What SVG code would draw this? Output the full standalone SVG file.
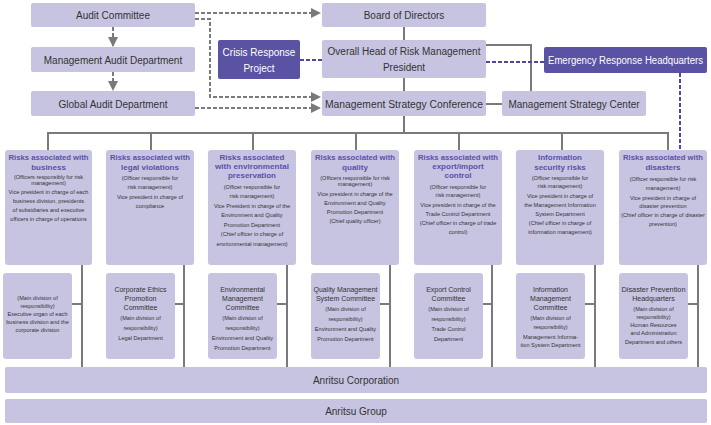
<svg xmlns="http://www.w3.org/2000/svg" width="711" height="425" viewBox="0 0 711 425">
<defs>
<marker id="ag" viewBox="0 0 10 10" refX="9" refY="5" markerWidth="5" markerHeight="5" orient="auto"><path d="M0,0L10,5L0,10z" fill="#7a7a7a"/></marker>
<style>
.b{fill:#c7c4e2;}
.d{fill:#5a52a3;}
text{font-family:"Liberation Sans",Arial,sans-serif;text-anchor:middle;fill:#333;}
.m{font-size:10px;}
.w{fill:#fff;font-size:10px;}
.t{fill:#5b50aa;font-size:8px;font-weight:bold;}
.s{font-size:5.6px;}
.l{font-size:7px;}
.g{stroke:#7a7a7a;stroke-width:2;fill:none;}
.gd{stroke:#7a7a7a;stroke-width:2;fill:none;stroke-dasharray:4,2;}
.bd{stroke:#4e45a0;stroke-width:2;fill:none;stroke-dasharray:4,2;}
</style>
</defs>
<g id="connectors">
<path class="gd" d="M195,13H320" marker-end="url(#ag)"/>
<path class="gd" d="M195,19H210V97H320" marker-end="url(#ag)"/>
<path class="gd" d="M195,108H320" marker-end="url(#ag)"/>
<path class="gd" d="M113,27V46" marker-end="url(#ag)"/>
<path class="gd" d="M113,72V90" marker-end="url(#ag)"/>
<path class="g" d="M404,27V40M404,78V91M486,45H531V91M486,104H502M404,116V133M48,150V133H668V150M151,133V150M253,133V150M356,133V150M459,133V150M562,133V150"/>
<path class="g" d="M82,265V367M184,265V367M287,265V367M390,265V367M492,265V367M595,265V367M698,265V367M72,304H82M175,304H184M277,304H287M380,304H390M483,304H492M585,304H595M688,304H698"/>
<path class="bd" d="M300,60H322M486,62H544M680,73V150"/>
</g>
<g id="audit"><rect class="b" x="31" y="3" width="164" height="24" rx="2"/><text class="m" x="113" y="19">Audit Committee</text></g>
<g id="board"><rect class="b" x="322" y="3" width="164" height="24" rx="2"/><text class="m" x="404" y="19">Board of Directors</text></g>
<g id="crisis"><rect class="d" x="218" y="40" width="82" height="39" rx="2"/><text class="w" x="259" y="56">Crisis Response</text><text class="w" x="259" y="72">Project</text></g>
<g id="head"><rect class="b" x="322" y="40" width="164" height="38" rx="2"/><text class="m" x="404" y="55">Overall Head of Risk Management</text><text class="m" x="404" y="71">President</text></g>
<g id="emergency"><rect class="d" x="544" y="47" width="163" height="26" rx="2"/><text class="w" x="625.5" y="64" textLength="155" lengthAdjust="spacingAndGlyphs">Emergency Response Headquarters</text></g>
<g id="mad"><rect class="b" x="31" y="47" width="164" height="25" rx="2"/><text class="m" x="113" y="64">Management Audit Department</text></g>
<g id="gad"><rect class="b" x="31" y="91" width="164" height="25" rx="2"/><text class="m" x="113" y="108">Global Audit Department</text></g>
<g id="conf"><rect class="b" x="322" y="91" width="164" height="25" rx="2"/><text class="m" x="404" y="108" textLength="158" lengthAdjust="spacingAndGlyphs">Management Strategy Conference</text></g>
<g id="center"><rect class="b" x="502" y="91" width="144" height="25" rx="2"/><text class="m" x="574" y="108">Management Strategy Center</text></g>

<g id="r1"><rect class="b" x="5" y="150" width="87" height="115" rx="3"/>
<text class="t" x="48.5" y="160" textLength="80" lengthAdjust="spacingAndGlyphs">Risks associated with</text><text class="t" x="48.5" y="170">business</text>
<text class="s" x="48.5" y="179">(Officers responsibly for risk</text><text class="s" x="48.5" y="185">management)</text>
<text class="s" x="48.5" y="194">Vice president in charge of each</text><text class="s" x="48.5" y="203">business division, presidents</text><text class="s" x="48.5" y="212">of subsidiaries and executive</text><text class="s" x="48.5" y="221">officers in charge of operations</text></g>
<g id="r2"><rect class="b" x="106" y="150" width="88" height="115" rx="3"/>
<text class="t" x="150" y="160" textLength="80" lengthAdjust="spacingAndGlyphs">Risks associated with</text><text class="t" x="150" y="170">legal violations</text>
<text class="s" x="150" y="180">(Officer responsible for</text><text class="s" x="150" y="189">risk management)</text>
<text class="s" x="150" y="199">Vice president in charge of</text><text class="s" x="150" y="208">compliance</text></g>
<g id="r3"><rect class="b" x="208" y="150" width="88" height="115" rx="3"/>
<text class="t" x="252" y="160">Risks associated</text><text class="t" x="252" y="169" textLength="74" lengthAdjust="spacingAndGlyphs">with environmental</text><text class="t" x="252" y="178">preservation</text>
<text class="s" x="252" y="189">(Officer responsible for</text><text class="s" x="252" y="198">risk management)</text>
<text class="s" x="252" y="208">Vice President in charge of the</text><text class="s" x="252" y="217">Environment and Quality</text><text class="s" x="252" y="227">Promotion Department</text><text class="s" x="252" y="236">(Chief officer in charge of</text><text class="s" x="252" y="246">environmental management)</text></g>
<g id="r4"><rect class="b" x="311" y="150" width="88" height="115" rx="3"/>
<text class="t" x="355" y="160" textLength="80" lengthAdjust="spacingAndGlyphs">Risks associated with</text><text class="t" x="355" y="170">quality</text>
<text class="s" x="355" y="180">(Officers responsible for risk</text><text class="s" x="355" y="186">management)</text>
<text class="s" x="355" y="196">Vice president in charge of the</text><text class="s" x="355" y="205">Environment and Quality</text><text class="s" x="355" y="214">Promotion Department</text><text class="s" x="355" y="223">(Chief quality officer)</text></g>
<g id="r5"><rect class="b" x="414" y="150" width="88" height="115" rx="3"/>
<text class="t" x="458" y="160" textLength="80" lengthAdjust="spacingAndGlyphs">Risks associated with</text><text class="t" x="458" y="169">export/import</text><text class="t" x="458" y="178">control</text>
<text class="s" x="458" y="189">(Officer responsible for</text><text class="s" x="458" y="197">risk management)</text>
<text class="s" x="458" y="207">Vice president in charge of the</text><text class="s" x="458" y="216">Trade Control Department</text><text class="s" x="458" y="225">(Chief officer in charge of trade</text><text class="s" x="458" y="234">control)</text></g>
<g id="r6"><rect class="b" x="516" y="150" width="88" height="115" rx="3"/>
<text class="t" x="560" y="160">Information</text><text class="t" x="560" y="170">security risks</text>
<text class="s" x="560" y="180">(Officer responsible for</text><text class="s" x="560" y="188">risk management)</text>
<text class="s" x="560" y="198">Vice president in charge of</text><text class="s" x="560" y="207">the Management Information</text><text class="s" x="560" y="216">System Department</text><text class="s" x="560" y="225">(Chief officer in charge of</text><text class="s" x="560" y="234">information management)</text></g>
<g id="r7"><rect class="b" x="619" y="150" width="88" height="115" rx="3"/>
<text class="t" x="663" y="160" textLength="80" lengthAdjust="spacingAndGlyphs">Risks associated with</text><text class="t" x="663" y="170">disasters</text>
<text class="s" x="663" y="181">(Officer responsible for risk</text><text class="s" x="663" y="190">management)</text>
<text class="s" x="663" y="200">Vice president in charge of</text><text class="s" x="663" y="208">disaster prevention</text><text class="s" x="663" y="217">(Chief officer in charge of disaster</text><text class="s" x="663" y="226">prevention)</text></g>

<g id="c1"><rect class="b" x="3" y="273" width="69" height="86" rx="3"/>
<text class="s" x="37.5" y="300">(Main division of</text><text class="s" x="37.5" y="308">responsibility)</text><text class="s" x="37.5" y="316">Executive organ of each</text><text class="s" x="37.5" y="324">business division and the</text><text class="s" x="37.5" y="332">corporate division</text></g>
<g id="c2"><rect class="b" x="106" y="273" width="69" height="86" rx="3"/>
<text class="l" x="140.5" y="292">Corporate Ethics</text><text class="l" x="140.5" y="301">Promotion</text><text class="l" x="140.5" y="310">Committee</text>
<text class="s" x="140.5" y="320">(Main division of</text><text class="s" x="140.5" y="330">responsibility)</text><text class="s" x="140.5" y="340">Legal Department</text></g>
<g id="c3"><rect class="b" x="208" y="273" width="69" height="86" rx="3"/>
<text class="l" x="242.5" y="292">Environmental</text><text class="l" x="242.5" y="301">Management</text><text class="l" x="242.5" y="310">Committee</text>
<text class="s" x="242.5" y="320">(Main division of</text><text class="s" x="242.5" y="330">responsibility)</text><text class="s" x="242.5" y="340">Environment and Quality</text><text class="s" x="242.5" y="350">Promotion Department</text></g>
<g id="c4"><rect class="b" x="311" y="273" width="69" height="86" rx="3"/>
<text class="l" x="345.5" y="292" textLength="64" lengthAdjust="spacingAndGlyphs">Quality Management</text><text class="l" x="345.5" y="301">System Committee</text>
<text class="s" x="345.5" y="311">(Main division of</text><text class="s" x="345.5" y="321">responsibility)</text><text class="s" x="345.5" y="331">Environment and Quality</text><text class="s" x="345.5" y="341">Promotion Department</text></g>
<g id="c5"><rect class="b" x="414" y="273" width="69" height="86" rx="3"/>
<text class="l" x="448.5" y="292">Export Control</text><text class="l" x="448.5" y="301">Committee</text>
<text class="s" x="448.5" y="311">(Main division of</text><text class="s" x="448.5" y="321">responsibility)</text><text class="s" x="448.5" y="331">Trade Control</text><text class="s" x="448.5" y="341">Department</text></g>
<g id="c6"><rect class="b" x="516" y="273" width="69" height="86" rx="3"/>
<text class="l" x="550.5" y="292">Information</text><text class="l" x="550.5" y="301">Management</text><text class="l" x="550.5" y="310">Committee</text>
<text class="s" x="550.5" y="320">(Main division of</text><text class="s" x="550.5" y="329">responsibility)</text><text class="s" x="550.5" y="339">Management Informa-</text><text class="s" x="550.5" y="347">tion System Department</text></g>
<g id="c7"><rect class="b" x="619" y="273" width="69" height="86" rx="3"/>
<text class="l" x="653.5" y="292" textLength="64" lengthAdjust="spacingAndGlyphs">Disaster Prevention</text><text class="l" x="653.5" y="301">Headquarters</text>
<text class="s" x="653.5" y="311">(Main division of</text><text class="s" x="653.5" y="319">responsibility)</text><text class="s" x="653.5" y="327">Human Resources</text><text class="s" x="653.5" y="335">and Administration</text><text class="s" x="653.5" y="344">Department and others</text></g>

<g id="corp"><rect class="b" x="5" y="367" width="702" height="26" rx="2"/><text class="m" x="356" y="384">Anritsu Corporation</text></g>
<g id="group"><rect class="b" x="5" y="399" width="702" height="24" rx="2"/><text class="m" x="356" y="415">Anritsu Group</text></g>
</svg>
